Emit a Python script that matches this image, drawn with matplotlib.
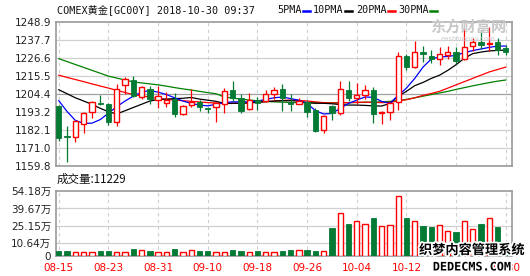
import numpy as np
import matplotlib
matplotlib.use("Agg")
import matplotlib.pyplot as plt
from matplotlib.lines import Line2D
import matplotlib.patheffects as pe

# Daily candles (open, high, low, close), 08-15 .. 10-30
opens = [1197, 1178.5, 1178, 1186, 1193.4, 1199, 1198, 1187.2, 1209.9, 1213,
         1202.5, 1207.2, 1200.6, 1199, 1201.1, 1192.2, 1197.5, 1199.6, 1195.9, 1196.1,
         1198, 1206.8, 1201.7, 1194.9, 1200.6, 1200.2, 1204.4, 1207.4, 1199.4, 1198.3,
         1199.4, 1194.4, 1182, 1196.7, 1192.4, 1206.8, 1201.7, 1204, 1206.8, 1192.3,
         1193.2, 1199.2, 1228, 1221.2, 1230.2, 1228, 1226, 1228.5, 1230.2, 1226,
         1234.2, 1236.3, 1235, 1236.3, 1232.6]
highs = [1197.5, 1184.5, 1188, 1193.5, 1200, 1203.7, 1198.7, 1210.3, 1214.7, 1215.5,
         1209.5, 1209, 1209.5, 1205.8, 1204.8, 1197.5, 1207.4, 1200.5, 1196.5, 1199.2,
         1208, 1212.4, 1204.4, 1204.8, 1202.2, 1206.6, 1208.9, 1210.4, 1204.5, 1202,
         1200.6, 1195.5, 1191.3, 1197.8, 1212.4, 1212.4, 1211, 1209.7, 1208.4, 1193.6,
         1199, 1230.5, 1228.9, 1237.1, 1233.9, 1231.6, 1233.3, 1233.9, 1233.3, 1245,
         1238.8, 1243.3, 1246, 1238.8, 1234.5]
lows = [1175.3, 1162.5, 1174.5, 1180, 1189.3, 1197.4, 1185.4, 1184.5, 1204.5, 1202.5,
        1201.5, 1198, 1195.5, 1196.5, 1189.9, 1191.4, 1196.1, 1193.9, 1192.6, 1187.2,
        1192.8, 1200.2, 1192.8, 1194.5, 1194.2, 1199.5, 1201, 1194, 1194, 1198,
        1190.3, 1180.6, 1180, 1188, 1191.6, 1200.1, 1198, 1201, 1186.2, 1185.6,
        1188.3, 1194.4, 1219.2, 1220.6, 1224.3, 1223.4, 1222.3, 1226, 1223, 1225.4,
        1231, 1232, 1231, 1228.5, 1228.3]
closes = [1177, 1177.5, 1187.5, 1192.8, 1199.2, 1198, 1187.2, 1207.4, 1213.6, 1203.1,
          1208.5, 1201.5, 1203, 1200.5, 1192, 1197, 1199.6, 1196.5, 1194.9, 1198.6,
          1206.2, 1201.7, 1194, 1200.6, 1198.6, 1204.4, 1206.8, 1201.7, 1198.1, 1200.3,
          1193.4, 1181.6, 1190.7, 1192.4, 1207.4, 1201.7, 1203.7, 1206.7, 1192, 1193.4,
          1198.9, 1228, 1221.2, 1230.2, 1228.9, 1226, 1228.9, 1230.2, 1224.8, 1233.6,
          1236.3, 1234.7, 1235.6, 1231.6, 1230.2]

# moving averages
ma5 = [1200.2, 1193.5, 1188, 1186.2, 1186.3, 1188.5, 1192.5, 1196.5, 1200, 1203,
       1205.5, 1206.5, 1205.5, 1204, 1202, 1200, 1198.5, 1197.5, 1197, 1198,
       1199, 1199.5, 1199.5, 1199.5, 1200, 1201, 1202, 1202.5, 1201.5, 1200.5,
       1198.6, 1194, 1192, 1192.3, 1195.5, 1198.5, 1200.6, 1202.5, 1202.3, 1199.8,
       1198.6, 1203.5, 1208, 1214, 1221, 1226, 1227.3, 1227.6, 1228.3, 1230,
       1231.2, 1232.2, 1233.2, 1234, 1234]
ma10 = [1207, 1204.5, 1202, 1200, 1198, 1195.5, 1193.4, 1192, 1194, 1196,
        1198, 1200, 1201, 1201.2, 1201.5, 1201.7, 1202.2, 1201.2, 1200.5, 1199.8,
        1198.6, 1198.6, 1198.6, 1198.8, 1199.2, 1199.6, 1200, 1200.2, 1200.2, 1200,
        1199, 1198.6, 1198.6, 1198.3, 1197.8, 1197.5, 1197.5, 1197.3, 1197, 1196.9,
        1198.5, 1203, 1206, 1209.5, 1211.5, 1214, 1216, 1219, 1222.5, 1226.5,
        1229.3, 1230.3, 1231, 1231.3, 1231.5]
ma20 = [1216, 1214.6, 1213.3, 1212, 1210.6, 1209.3, 1208, 1206.6, 1205.3, 1204,
        1203.2, 1202.4, 1201.6, 1201, 1200.6, 1200.2, 1199.8, 1199.4, 1199, 1198.8,
        1198.7, 1198.7, 1198.8, 1199, 1199.3, 1199.6, 1200, 1200.4, 1200.6, 1200.4,
        1200, 1199.5, 1199, 1198.8, 1198.8, 1199, 1199.2, 1199.3, 1199.2, 1199,
        1199.2, 1200, 1200.8, 1202, 1203.5, 1204.7, 1206, 1208, 1210, 1212,
        1214, 1216, 1218, 1219.5, 1221]
ma30 = [1226.2, 1224.4, 1222.6, 1220.8, 1219, 1217.2, 1215.4, 1214.2, 1213, 1211.8,
        1211.2, 1210.6, 1210, 1209.2, 1208.3, 1207.5, 1206.8, 1206, 1205.2, 1204.5,
        1202.5, 1201.8, 1201.2, 1200.6, 1200.2, 1199.8, 1199.5, 1199.3, 1199.1, 1199,
        1198.9, 1198.9, 1198.9, 1198.9, 1199, 1199, 1199.1, 1199.2, 1199.3, 1199.5,
        1199.8, 1200.3, 1201, 1202, 1203, 1204, 1205, 1206, 1207.2, 1208.3,
        1209.4, 1210.4, 1211.4, 1212.3, 1213]

# volume in 万
volume = [4.2, 4.2, 3.6, 3.6, 3.6, 4.2, 4.2, 3.6, 3.6, 6.1,
          5.0, 4.2, 3.6, 3.6, 5.5, 3.6, 5.0, 4.2, 4.2, 3.6,
          3.6, 5.0, 4.2, 3.6, 4.2, 3.6, 3.6, 4.2, 5.0, 5.0,
          5.0, 4.2, 4.2, 23.6, 35.6, 26.7, 29.2, 26.4, 31.7, 25.0,
          25.6, 50.0, 31.7, 29.2, 25.0, 24.2, 25.6, 20.8, 20.0, 29.2,
          22.2, 26.7, 31.4, 24.2, 1.12]

date_labels = ["08-15", "08-23", "08-31", "09-10", "09-18",
               "09-26", "10-04", "10-12", "10-22", "10-30"]
price_ticks = [1159.8, 1171.0, 1182.1, 1193.2, 1204.4, 1215.5, 1226.6, 1237.7, 1248.9]
vol_ticks = [0, 10.64, 25.15, 39.67, 54.18]
vol_labels = ["0", "10.64万", "25.15万", "39.67万", "54.18万"]

RED = "#ff0000"
GREEN = "#047a35"
GRID = "#d0d0d0"
BORDER = "#9a9a9a"
LATIN_CJK = ["DejaVu Sans", "Noto Sans CJK SC"]

o = np.array(opens); h = np.array(highs); l = np.array(lows); c = np.array(closes)
n = len(o)
x = np.arange(n)
up = c >= o

fig = plt.figure(figsize=(5.3, 2.76), dpi=100)
ax = fig.add_axes([55.5/530, 1 - 166/276, 456.5/530, 144/276])
axv = fig.add_axes([55.5/530, 1 - 256/276, 456.5/530, 65/276])

xt = np.arange(0, n, 6)
for a in (ax, axv):
    a.set_xlim(-0.4, 54.75)
    for s in a.spines.values():
        s.set_color(BORDER)
        s.set_linewidth(1.2)
    for xv in xt:
        a.axvline(xv, color=GRID, lw=0.8, ls=(0, (3, 3)), zorder=0)
    a.tick_params(length=0, labelsize=7.5, colors="#222222")

# price panel grid
ax.set_ylim(price_ticks[0], price_ticks[-1])
ax.set_yticks(price_ticks)
ax.set_yticklabels([f"{v:.1f}" for v in price_ticks])
for i, v in enumerate(price_ticks[1:-1]):
    ax.axhline(v, color="#a0a0a0" if v == 1204.4 else GRID, lw=0.9, zorder=0)
ax.set_xticks([])

# moving averages
ax.plot(x, ma30, color="#008000", lw=0.9, zorder=2)
ax.plot(x, ma20, color=RED, lw=0.9, zorder=2)
ax.plot(x, ma10, color="black", lw=0.9, zorder=2)
ax.plot(x, ma5, color="#0000ff", lw=0.9, zorder=2)

# candles
w = 0.64
body_lo = np.minimum(o, c)
body_h = np.maximum(np.abs(c - o), 0.25)
ax.vlines(x[~up], l[~up], h[~up], color=GREEN, lw=0.9, zorder=3)
ax.bar(x[~up], body_h[~up], w, bottom=body_lo[~up], color=GREEN, edgecolor=GREEN, lw=0.6, zorder=4)
ax.vlines(x[up], l[up], h[up], color=RED, lw=0.9, zorder=3)
ax.bar(x[up], body_h[up], w, bottom=body_lo[up], facecolor="white", edgecolor=RED, lw=1.0, zorder=4)

# volume panel
vol = np.array(volume)
axv.set_ylim(0, vol_ticks[-1])
axv.set_yticks(vol_ticks)
axv.set_yticklabels(vol_labels, family=LATIN_CJK)
for v in vol_ticks[1:-1]:
    axv.axhline(v, color=GRID, lw=0.9, zorder=0)
axv.bar(x[~up], vol[~up], w, color=GREEN, edgecolor=GREEN, lw=0.6, zorder=3)
axv.bar(x[up], vol[up], w, facecolor="white", edgecolor=RED, lw=1.0, zorder=3)
axv.set_xticks(xt)
axv.set_xticklabels(date_labels, color=RED)
axv.tick_params(axis="x", pad=5)
axv.tick_params(axis="y", pad=3)
ax.tick_params(axis="y", pad=3)

# header texts
fig.text(57/530, 1 - 10/276, "COMEX黄金[GC00Y] 2018-10-30 09:37", fontsize=7.3,
         family=["DejaVu Sans Mono", "Noto Sans CJK SC"], va="center", color="#111111")
legend = [("5PMA", "#0000ff", 277), ("10PMA", "black", 313),
          ("20PMA", RED, 356), ("30PMA", "#008000", 398)]
for lab, col, px in legend:
    t = fig.text(px/530, 1 - 10/276, lab, fontsize=7.3, family="DejaVu Sans Mono",
                 va="center", color="#111111")
    tw = 6.05 * len(lab)
    fig.add_artist(Line2D([(px + tw + 2)/530, (px + tw + 9)/530], [1 - 11/276] * 2,
                          color=col, lw=1.8, transform=fig.transFigure))
fig.text(57/530, 1 - 179/276, "成交量:11229", fontsize=8.3,
         family=["Noto Sans CJK SC", "DejaVu Sans"], va="center", color="#111111")

# watermarks
fig.text(468/530, 1 - 27/276, "东方财富网", fontsize=11, family="Noto Sans CJK SC",
         weight="bold", color="#c8c8c8", ha="center", va="center", zorder=0)
fig.text(468/530, 1 - 39/276, "eastmoney.com", fontsize=5, color="#d0d0d0",
         ha="center", va="center", zorder=0)
stroke = [pe.withStroke(linewidth=2.5, foreground="white")]
fig.text(472/530, 1 - 250/276, "织梦内容管理系统", fontsize=9.5, family="Noto Sans CJK SC",
         weight="bold", color="black", ha="center", va="center", path_effects=stroke)
fig.text(472/530, 1 - 267/276, "DEDECMS.COM", fontsize=8.5, family="DejaVu Sans Mono",
         weight="bold", color="black", ha="center", va="center", path_effects=stroke)

fig.savefig("out.png", dpi=100)
